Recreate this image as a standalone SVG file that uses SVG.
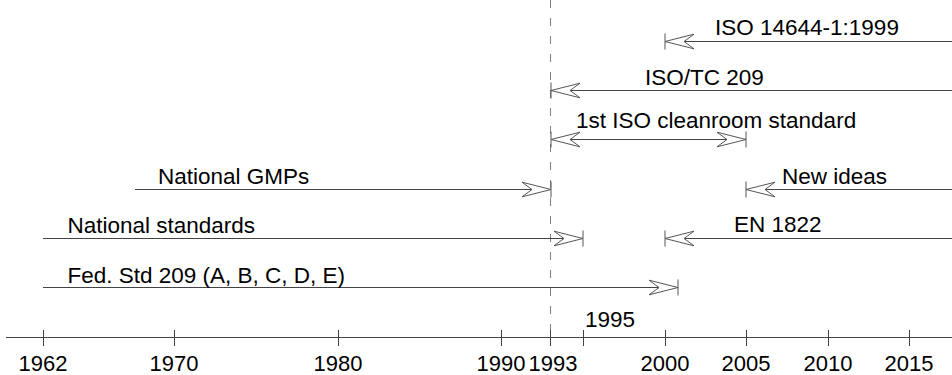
<svg xmlns="http://www.w3.org/2000/svg" width="952" height="375" viewBox="0 0 952 375">
  <style>
    .lbl { font-family: "Liberation Sans", Arial, sans-serif; font-size: 22.5px; fill: #000; }
    .ax { font-family: "Liberation Sans", Arial, sans-serif; font-size: 22px; fill: #000; text-anchor: middle; }
    .bar { stroke: #444; stroke-width: 1; fill: none; }
    .tick { stroke: #444; stroke-width: 1; }
    .dash { stroke: #808080; stroke-width: 1; stroke-dasharray: 8 10; }
  </style>
  <defs>
    <marker id="arr" markerUnits="userSpaceOnUse" markerWidth="40" markerHeight="20" refX="0" refY="0" orient="auto-start-reverse" overflow="visible" viewBox="-35 -10 40 20">
      <path d="M0,0 L-29,-7.3 L-19,0 L-29,7.3 Z" fill="#fff" stroke="#555" stroke-width="1"/>
      <path d="M0,-8 V8" stroke="#555" stroke-width="1"/>
    </marker>
  </defs>
  <rect width="952" height="375" fill="#fff"/>

  <g id="divider">
    <line class="dash" x1="550.5" y1="0" x2="550.5" y2="330"/>
  </g>

  <g id="connectors">
    <path id="c-iso14644" class="bar" d="M665,41.5 H952" marker-start="url(#arr)"/>
    <path id="c-isotc" class="bar" d="M551,90.5 H952" marker-start="url(#arr)"/>
    <path id="c-first" class="bar" d="M551,139.5 H746" marker-start="url(#arr)" marker-end="url(#arr)"/>
    <path id="c-gmp" class="bar" d="M135,189.5 H551" marker-end="url(#arr)"/>
    <path id="c-newideas" class="bar" d="M746,189.5 H952" marker-start="url(#arr)"/>
    <path id="c-natstd" class="bar" d="M43,238.5 H583" marker-end="url(#arr)"/>
    <path id="c-en1822" class="bar" d="M665,238.5 H952" marker-start="url(#arr)"/>
    <path id="c-fed" class="bar" d="M43,287.5 H678" marker-end="url(#arr)"/>
  </g>

  <g id="iso14644"><text class="lbl" x="715" y="35">ISO 14644-1:1999</text></g>
  <g id="isotc209"><text class="lbl" x="645" y="84.5">ISO/TC 209</text></g>
  <g id="first-iso"><text class="lbl" x="576" y="128">1st ISO cleanroom standard</text></g>
  <g id="national-gmps"><text class="lbl" x="158" y="183.5">National GMPs</text></g>
  <g id="new-ideas"><text class="lbl" x="782" y="183.5">New ideas</text></g>
  <g id="national-standards"><text class="lbl" x="67.5" y="232.5">National standards</text></g>
  <g id="en1822"><text class="lbl" x="734" y="232">EN 1822</text></g>
  <g id="fed-std"><text class="lbl" x="67.5" y="282.5">Fed. Std 209 (A, B, C, D, E)</text></g>

  <g id="axis">
    <line class="bar" x1="6" y1="337.5" x2="952" y2="337.5"/>
    <g class="tick">
      <line x1="43.5" y1="330" x2="43.5" y2="346"/>
      <line x1="174.5" y1="330" x2="174.5" y2="346"/>
      <line x1="338.5" y1="330" x2="338.5" y2="346"/>
      <line x1="501.5" y1="330" x2="501.5" y2="346"/>
      <line x1="550.5" y1="330" x2="550.5" y2="346"/>
      <line x1="583.5" y1="330" x2="583.5" y2="346"/>
      <line x1="665.5" y1="330" x2="665.5" y2="346"/>
      <line x1="746.5" y1="330" x2="746.5" y2="346"/>
      <line x1="828.5" y1="330" x2="828.5" y2="346"/>
      <line x1="909.5" y1="330" x2="909.5" y2="346"/>
    </g>
    <text class="ax" x="43" y="371">1962</text>
    <text class="ax" x="174" y="371">1970</text>
    <text class="ax" x="338" y="371">1980</text>
    <text class="ax" x="501" y="371">1990</text>
    <text class="ax" x="553" y="371">1993</text>
    <text class="ax" x="665" y="371">2000</text>
    <text class="ax" x="746" y="371">2005</text>
    <text class="ax" x="828" y="371">2010</text>
    <text class="ax" x="909" y="371">2015</text>
    <text class="lbl" x="585" y="327">1995</text>
  </g>
</svg>
